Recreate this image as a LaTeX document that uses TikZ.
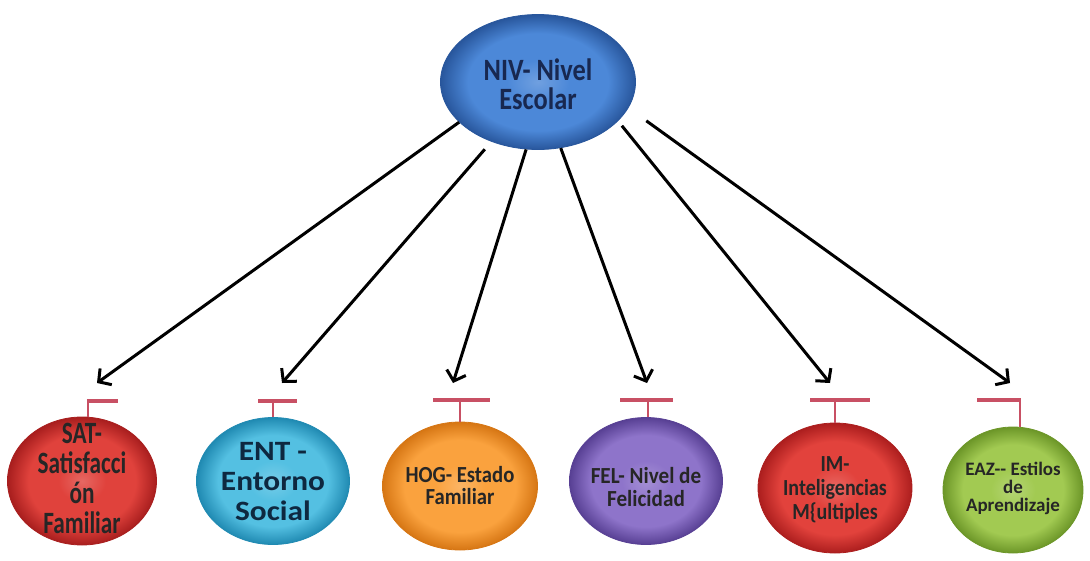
\documentclass[tikz,border=0pt]{standalone}
\usepackage{fontspec}
\setmainfont{Carlito}
\usetikzlibrary{arrows.meta,shapes.geometric}

\definecolor{tcol}{RGB}{200,80,100}
\definecolor{nivin}{RGB}{76,136,216}\definecolor{nivout}{RGB}{40,86,156}
\definecolor{satin}{RGB}{224,66,60}\definecolor{satout}{RGB}{168,30,30}
\definecolor{entin}{RGB}{84,192,226}\definecolor{entout}{RGB}{32,138,178}
\definecolor{hogin}{RGB}{250,162,62}\definecolor{hogout}{RGB}{214,118,20}
\definecolor{felin}{RGB}{142,116,202}\definecolor{felout}{RGB}{88,64,148}
\definecolor{imin}{RGB}{226,66,60}\definecolor{imout}{RGB}{172,30,30}
\definecolor{eazin}{RGB}{162,202,82}\definecolor{eazout}{RGB}{108,150,40}

\pgfdeclareradialshading[orbin,orbout]{orb}{\pgfpoint{0bp}{0bp}}{color(0bp)=(orbin!80!white); color(8bp)=(orbin); color(18bp)=(orbin); color(25bp)=(orbout); color(50bp)=(orbout)}

\newcommand{\txt}[3]{\bfseries\fontsize{#1}{#2}\selectfont\addfontfeatures{FakeStretch=#3}}

\begin{document}
\begin{tikzpicture}[x=1pt,y=-1pt,
  orb/.style={ellipse,shading=orb,draw=#1out,line width=0.8pt,inner sep=0pt,
    /utils/exec={\colorlet{orbin}{#1in}\colorlet{orbout}{#1out}}},
  lbl/.style={align=center,inner sep=0pt,text=black!85},
  arr/.style={line width=3pt,-{Straight Barb[length=9pt,width=20pt]}},
  stem/.style={draw=tcol,line width=2.5pt},
  bar/.style={draw=tcol,line width=4pt}]
\useasboundingbox (0,0) rectangle (1090,560);

\node[orb=niv,minimum width=195,minimum height=135] (niv) at (538,82) {};
\node[orb=sat,minimum width=149,minimum height=128] (sat) at (82,481) {};
\node[orb=ent,minimum width=153,minimum height=127] (ent) at (273,481) {};
\node[orb=hog,minimum width=155,minimum height=128] (hog) at (460,486) {};
\node[orb=fel,minimum width=153,minimum height=127] (fel) at (646,481) {};
\node[orb=im,minimum width=154,minimum height=130] (im) at (835,488) {};
\node[orb=eaz,minimum width=140,minimum height=126] (eaz) at (1013,490) {};

\node[lbl,text={rgb,255:red,24;green,40;blue,80},font=\txt{31}{29}{0.85}] (nivtxt) at (538,84) {NIV- Nivel\\Escolar};
\node[lbl,font=\txt{31}{30}{0.75}] (sattxt) at (82,478) {SAT-\\Satisfacci\\ón\\Familiar};
\node[lbl,text={rgb,255:red,14;green,40;blue,64},font=\txt{28}{30}{1.12}] (enttxt) at (273,482) {ENT -\\Entorno\\Social};
\node[lbl,font=\txt{23}{22}{0.9}] (hogtxt) at (460,486) {HOG- Estado\\Familiar};
\node[lbl,font=\txt{23}{23}{0.92}] (feltxt) at (646,487) {FEL- Nivel de\\Felicidad};
\node[lbl,font=\txt{23}{24}{0.87}] (imtxt) at (835,490) {IM-\\Inteligencias\\M\{ultiples};
\node[lbl,font=\txt{19}{18}{1}] (eaztxt) at (1013,488) {EAZ-{}- Estilos\\de\\Aprendizaje};

\coordinate (sattip) at (97,383);
\coordinate (enttip) at (282,383);
\coordinate (hogtip) at (453,383);
\coordinate (feltip) at (647,383);
\coordinate (imtip) at (830,383);
\coordinate (eaztip) at (1010,383);

\draw[arr] (niv.-153) -- (sattip);
\draw[arr,shorten <=10pt] (niv.-128) -- (enttip);
\draw[arr] (niv.-100) -- (hogtip);
\draw[arr] (niv.-71) -- (feltip);
\draw[arr,shorten <=6pt] (niv.-26) -- (imtip);
\draw[arr,shorten <=22pt] (niv.-16) -- (eaztip);

\draw[stem] ([xshift=6pt]sat.north) -- ++(0,-16);
\draw[bar] (86.8,401) -- ++(31,0);
\draw[stem] (ent.north) -- ++(0,-16);
\draw[bar] (258,401) -- ++(39,0);
\draw[stem] (hog.north) -- ++(0,-22);
\draw[bar] (433,400) -- ++(57,0);
\draw[stem] ([xshift=2pt]fel.north) -- ++(0,-18);
\draw[bar] (620,400) -- ++(53,0);
\draw[stem] (im.north) -- ++(0,-23);
\draw[bar] (810,400) -- ++(60,0);
\draw[stem] ([xshift=7pt]eaz.north) -- ++(0,-27);
\draw[bar] (977,400) -- ++(44.2,0);
\end{tikzpicture}
\end{document}
